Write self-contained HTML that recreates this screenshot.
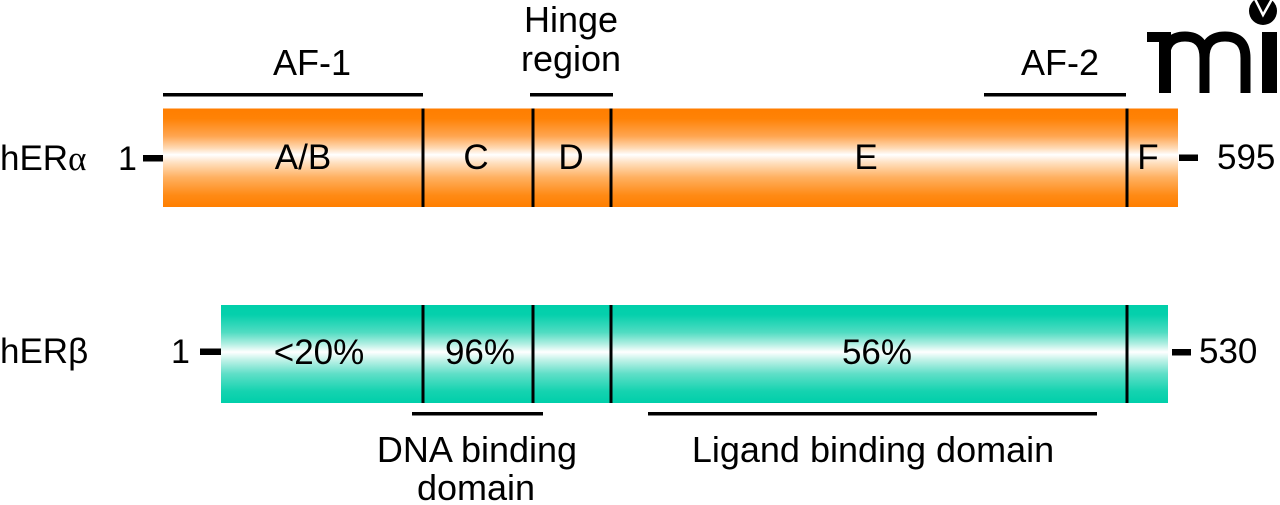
<!DOCTYPE html>
<html>
<head>
<meta charset="utf-8">
<style>
  html, body { margin:0; padding:0; background:#fff; }
  svg { display:block; }
  text { font-family: "Liberation Sans", Arial, sans-serif; fill:#000; }
</style>
</head>
<body>
<svg width="1280" height="505" viewBox="0 0 1280 505" xmlns="http://www.w3.org/2000/svg">
  <defs>
    <linearGradient id="og" x1="0" y1="0" x2="0" y2="1">
      <stop offset="0" stop-color="#ff7e00"/>
      <stop offset="0.10" stop-color="#ff8205"/>
      <stop offset="0.28" stop-color="#ffa550"/>
      <stop offset="0.40" stop-color="#ffd9b3"/>
      <stop offset="0.47" stop-color="#ffffff"/>
      <stop offset="0.55" stop-color="#ffe0c0"/>
      <stop offset="0.70" stop-color="#ffb060"/>
      <stop offset="0.88" stop-color="#ff8a15"/>
      <stop offset="1" stop-color="#ff7f00"/>
    </linearGradient>
    <linearGradient id="cg" x1="0" y1="0" x2="0" y2="1">
      <stop offset="0" stop-color="#00cfaa"/>
      <stop offset="0.10" stop-color="#05d0ac"/>
      <stop offset="0.28" stop-color="#50dcc2"/>
      <stop offset="0.40" stop-color="#b3efe3"/>
      <stop offset="0.48" stop-color="#ffffff"/>
      <stop offset="0.56" stop-color="#c0f2e8"/>
      <stop offset="0.70" stop-color="#60dfc8"/>
      <stop offset="0.88" stop-color="#15d3b0"/>
      <stop offset="1" stop-color="#00cfaa"/>
    </linearGradient>
  </defs>

  <!-- Logo -->
  <g fill="#000">
    <rect x="1147" y="32" width="24" height="10"/>
    <rect x="1159" y="32" width="12" height="61"/>
    <path d="M1165 93 V58 Q1165 36.5 1185 36.5 Q1204.5 36.5 1204.5 58 V93" fill="none" stroke="#000" stroke-width="10"/>
    <path d="M1204.5 58 Q1204.5 36.5 1225 36.5 Q1245.5 36.5 1245.5 58 V93" fill="none" stroke="#000" stroke-width="10"/>
    <rect x="1262" y="32" width="15" height="61"/>
    <circle cx="1263" cy="11" r="14"/>
    <path d="M1255 -1 L1263 15 L1272 -1" fill="none" stroke="#fff" stroke-width="2.5"/>
  </g>

  <!-- Top labels -->
  <text x="312" y="75" font-size="36" text-anchor="middle">AF-1</text>
  <text x="571" y="32" font-size="36" text-anchor="middle">Hinge</text>
  <text x="571" y="71" font-size="36" text-anchor="middle">region</text>
  <text x="1060" y="75" font-size="36" text-anchor="middle">AF-2</text>

  <!-- Top lines -->
  <rect x="163" y="93" width="260" height="3.5"/>
  <rect x="530" y="93" width="83" height="3.5"/>
  <rect x="984" y="93" width="142" height="3.5"/>

  <!-- hER alpha -->
  <text x="0" y="170" font-size="35">hER<tspan font-family="Liberation Serif, serif">α</tspan></text>
  <text x="118" y="170" font-size="34">1</text>
  <rect x="143" y="155" width="20" height="6.5"/>
  <rect x="163" y="108.5" width="1015" height="98.5" fill="url(#og)"/>
  <rect x="421.5" y="108.5" width="3" height="98.5"/>
  <rect x="531.5" y="108.5" width="3" height="98.5"/>
  <rect x="609.5" y="108.5" width="3" height="98.5"/>
  <rect x="1125.5" y="108.5" width="3" height="98.5"/>
  <text x="303" y="169" font-size="35" text-anchor="middle">A/B</text>
  <text x="476" y="169" font-size="35" text-anchor="middle">C</text>
  <text x="571" y="169" font-size="35" text-anchor="middle">D</text>
  <text x="866" y="169" font-size="35" text-anchor="middle">E</text>
  <text x="1148" y="169" font-size="35" text-anchor="middle">F</text>
  <rect x="1179" y="154.5" width="19" height="6.5"/>
  <text x="1217" y="169" font-size="35">595</text>

  <!-- hER beta -->
  <text x="0" y="363" font-size="35">hERβ</text>
  <text x="171" y="363" font-size="34">1</text>
  <rect x="200" y="348.5" width="21" height="6.5"/>
  <rect x="221" y="305" width="947" height="98" fill="url(#cg)"/>
  <rect x="421.5" y="305" width="3" height="98"/>
  <rect x="531.5" y="305" width="3" height="98"/>
  <rect x="609.5" y="305" width="3" height="98"/>
  <rect x="1125.5" y="305" width="3" height="98"/>
  <text x="319" y="364" font-size="35" text-anchor="middle">&lt;20%</text>
  <text x="480" y="364" font-size="35" text-anchor="middle">96%</text>
  <text x="877" y="364" font-size="35" text-anchor="middle">56%</text>
  <rect x="1172" y="349" width="19" height="6.5"/>
  <text x="1199" y="363" font-size="35">530</text>

  <!-- Bottom lines -->
  <rect x="412" y="412" width="131" height="3.5"/>
  <rect x="648" y="412" width="449" height="3.5"/>

  <!-- Bottom labels -->
  <text x="477" y="462" font-size="36" text-anchor="middle">DNA binding</text>
  <text x="476" y="500" font-size="36" text-anchor="middle">domain</text>
  <text x="873" y="462" font-size="36" text-anchor="middle">Ligand binding domain</text>
</svg>
</body>
</html>
